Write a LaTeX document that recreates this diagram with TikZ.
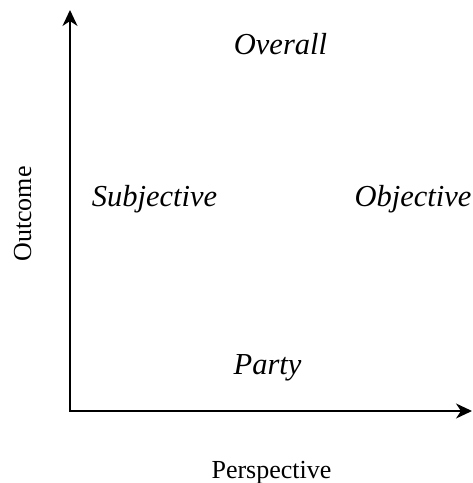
\documentclass[tikz,border=0pt]{standalone}
\usepackage{fontspec}
\setmainfont{Liberation Serif}
\usetikzlibrary{arrows.meta}
\begin{document}
\begin{tikzpicture}[x=1pt,y=1pt,
  axis/.style={line width=2pt,-{Stealth[length=16pt,width=15pt,inset=5pt]}},
  quad/.style={anchor=base,font=\fontsize{30.5}{34}\selectfont\itshape,inner sep=0pt},
  axlabel/.style={anchor=base,font=\fontsize{26}{30}\selectfont,inner sep=0pt}]
  \useasboundingbox (0,0) rectangle (473,483);
  \coordinate (origin) at (70,72);
  \coordinate (ytip) at (70,473);
  \coordinate (xtip) at (472,72);
  \draw[axis] ([yshift=-1pt]origin) -- (ytip);
  \draw[axis] ([xshift=-1pt]origin) -- (xtip);
  \node[quad] (overall) at (280.5,428) {Overall};
  \node[quad] (subj) at (154.5,276) {Subjective};
  \node[quad] (obj) at (413,276) {Objective};
  \node[quad] (party) at (267.5,108) {Party};
  \node[axlabel] (persp) at (271.5,5) {Perspective};
  \node[axlabel,rotate=90] (outcome) at (31,269) {Outcome};
\end{tikzpicture}
\end{document}
